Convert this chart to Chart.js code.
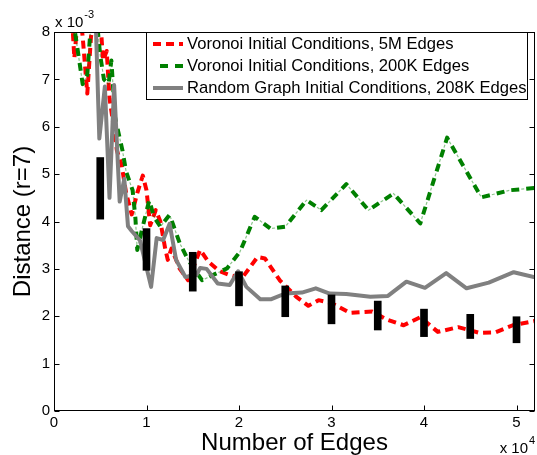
<!DOCTYPE html>
<html><head><meta charset="utf-8">
<script src="https://cdn.jsdelivr.net/npm/chart.js@4.4.1/dist/chart.umd.min.js"></script>
<style>html,body{margin:0;padding:0;background:#fff;}#wrap{width:537px;height:455px;}</style>
</head><body>
<div id="wrap"><canvas id="c" width="537" height="455"></canvas></div>
<script>
const FONT = '"Liberation Sans", Arial, Helvetica, sans-serif';

// Legend / series names
const seriesNames = [
  'Voronoi Initial Conditions, 5M Edges',
  'Voronoi Initial Conditions, 200K Edges',
  'Random Graph Initial Conditions, 208K Edges'
];
const xTitle = 'Number of Edges';
const yTitle = 'Distance (r=7)';
const xTicks = [0, 10000, 20000, 30000, 40000, 50000];
const yTicks = [0, 1, 2, 3, 4, 5, 6, 7, 8];   // in units of 1e-3

// Voronoi, 5M edges (red dashed)  — x: edges, y: distance ×1e-3
const redX = [1800,2200,2700,3100,3600,4000,4500,5000,5300,5700,6000,6300,6800,7300,7800,8400,9000,9600,10000,10400,11000,11500,12000,12300,12700,13600,14500,15800,16700,17900,19000,20300,22000,22800,24400,26200,27500,28600,30000,32000,34400,36000,37800,39600,41500,43700,46000,47700,49600,52000];
const redY = [8.8,7.45,8.6,7.9,6.7,7.9,8.5,8.3,7.4,7.6,6.6,6.2,5.5,5.2,4.6,4.15,4.6,4.97,4.66,3.92,4.24,4.0,3.45,3.19,3.43,3.0,2.76,3.40,3.15,2.95,2.87,2.8,3.25,3.22,2.76,2.41,2.22,2.34,2.28,2.07,2.1,1.93,1.81,1.98,1.67,1.77,1.65,1.66,1.81,1.9];

// Voronoi, 200K edges (green dash-dot)
const greenX = [1800,2500,3100,3600,4000,4500,5000,5400,5900,6200,6600,7400,7800,8500,8800,9000,9600,10300,10800,11500,12500,13600,14500,16000,17500,18700,20100,21700,23400,25000,27300,28900,31600,34000,36700,39600,42500,46200,49300,52100];
const greenY = [8.6,7.7,6.9,7.1,8.2,8.5,7.5,7.0,6.9,7.4,6.2,5.5,5.05,4.66,4.07,3.40,3.9,4.45,4.1,3.89,4.14,3.54,3.19,2.76,2.9,3.01,3.36,4.10,3.85,3.89,4.45,4.24,4.79,4.24,4.59,3.96,5.77,4.51,4.66,4.71];

// Random graph, 208K edges (gray solid)
const grayX = [4500,4900,5500,6000,6500,7100,7600,8000,8400,9300,10500,11100,11800,12500,13200,14200,15400,15800,16500,17700,19000,19900,20800,22300,23500,25000,26800,28300,29800,31600,34200,36100,38100,40100,42400,44600,47000,49700,52000];
const grayY = [8.3,5.75,6.85,4.5,6.88,4.42,4.9,3.9,3.8,3.6,2.62,3.65,3.61,3.95,3.19,2.83,2.87,3.02,3.0,2.69,2.66,2.95,2.62,2.36,2.36,2.48,2.50,2.59,2.48,2.47,2.41,2.43,2.73,2.60,2.91,2.59,2.71,2.93,2.82];

// Error bars (black)
const errX  = [5000,10000,15000,20000,25000,30000,35000,40000,45000,50000];
const errLo = [4.05,2.97,2.53,2.22,1.99,1.84,1.71,1.57,1.53,1.44];
const errHi = [5.35,3.85,3.35,2.94,2.64,2.45,2.32,2.15,2.04,1.99];

const toXY = (xs, ys) => xs.map((x, i) => ({x: x, y: ys[i]}));

const RED = '#ff0000', GREEN = '#008000', GREEN_THIN = 'rgba(0,128,0,0.45)', GRAY = '#808080';

const decorPlugin = {
  id: 'decor',
  afterDraw(chart) {
    const ctx = chart.ctx, a = chart.chartArea, xs = chart.scales.x, ys = chart.scales.y;
    ctx.save();
    ctx.strokeStyle = '#000';
    ctx.lineWidth = 1;
    ctx.setLineDash([]);
    // axes box
    ctx.strokeRect(Math.round(a.left) + 0.5, Math.round(a.top) + 0.5, Math.round(a.right - a.left) - 1, Math.round(a.bottom - a.top) - 1);
    const L = Math.round(a.left) + 0.5, R = Math.round(a.right) - 0.5, T = Math.round(a.top) + 0.5, B = Math.round(a.bottom) - 0.5;
    ctx.beginPath();
    xs.ticks.forEach(t => {
      const px = Math.round(xs.getPixelForValue(t.value)) + 0.5;
      ctx.moveTo(px, B); ctx.lineTo(px, B - 5);
      ctx.moveTo(px, T); ctx.lineTo(px, T + 5);
    });
    ys.ticks.forEach(t => {
      const py = Math.round(ys.getPixelForValue(t.value)) + 0.5;
      ctx.moveTo(L, py); ctx.lineTo(L + 5, py);
      ctx.moveTo(R, py); ctx.lineTo(R - 5, py);
    });
    ctx.stroke();

    // exponent labels
    ctx.fillStyle = '#000';
    ctx.textBaseline = 'alphabetic';
    ctx.textAlign = 'left';
    ctx.font = '15px ' + FONT;
    const s1 = 'x 10';
    ctx.fillText(s1, a.left + 1, a.top - 5);
    const w1 = ctx.measureText(s1).width;
    ctx.font = '11px ' + FONT;
    ctx.fillText('-3', a.left + 1 + w1 + 1, a.top - 14);
    ctx.font = '15px ' + FONT;
    const w2 = ctx.measureText(s1).width;
    ctx.fillText(s1, a.right - 7 - w2, 453);
    ctx.font = '11px ' + FONT;
    ctx.fillText('4', a.right - 6, 444);

    // legend
    const lw = 381, lh = 67;
    const lx = Math.round(a.right) - 8 - lw, ly = Math.round(a.top);
    ctx.fillStyle = '#fff';
    ctx.fillRect(lx, ly, lw, lh);
    ctx.strokeStyle = '#000';
    ctx.lineWidth = 1;
    ctx.strokeRect(lx + 0.5, ly + 0.5, lw, lh);
    const styles = [
      [{c: RED, w: 4, d: [8, 5], o: 0}],
      [{c: GREEN_THIN, w: 1.2, d: [3, 12], o: 5}, {c: GREEN, w: 4, d: [8, 7], o: -7}],
      [{c: GRAY, w: 4, d: [], o: 0}]
    ];
    ctx.font = '16.6px ' + FONT;
    ctx.textBaseline = 'middle';
    seriesNames.forEach((name, i) => {
      const cy = ly + 12 + 22 * i;
      styles[i].forEach(s => {
        ctx.save();
        ctx.strokeStyle = s.c; ctx.lineWidth = s.w; ctx.setLineDash(s.d); ctx.lineDashOffset = s.o;
        ctx.lineCap = 'butt';
        ctx.beginPath(); ctx.moveTo(lx + 7, cy); ctx.lineTo(lx + 37, cy); ctx.stroke();
        ctx.restore();
      });
      ctx.fillStyle = '#000';
      ctx.fillText(name, lx + 41, cy);
    });
    ctx.restore();
  }
};

new Chart(document.getElementById('c'), {
  type: 'line',
  data: {
    datasets: [
      {label: seriesNames[0], data: toXY(redX, redY), borderColor: RED, borderWidth: 4, borderDash: [8, 5],
       borderCapStyle: 'butt', borderJoinStyle: 'round', pointRadius: 0, tension: 0, fill: false, clip: 0, order: 5},
      {label: seriesNames[1] + ' (fine)', data: toXY(greenX, greenY), borderColor: GREEN_THIN, borderWidth: 1.2, borderDash: [3, 12], borderDashOffset: 5,
       pointRadius: 0, tension: 0, fill: false, clip: 0, order: 4},
      {label: seriesNames[1], data: toXY(greenX, greenY), borderColor: GREEN, borderWidth: 4, borderDash: [8, 7],
       borderCapStyle: 'butt', borderJoinStyle: 'round', pointRadius: 0, tension: 0, fill: false, clip: 0, order: 3},
      {label: seriesNames[2], data: toXY(grayX, grayY), borderColor: GRAY, borderWidth: 4,
       borderJoinStyle: 'round', pointRadius: 0, tension: 0, fill: false, clip: 0, order: 2},
      {type: 'bar', label: 'error', data: errX.map((x, i) => ({x: x, y: [errLo[i], errHi[i]]})),
       backgroundColor: '#000', borderWidth: 0, barThickness: 7, clip: 0, order: 1}
    ]
  },
  options: {
    responsive: false,
    devicePixelRatio: 1,
    animation: false,
    events: [],
    layout: {padding: {left: 0, right: 2, top: 32, bottom: 0}},
    plugins: {legend: {display: false}, tooltip: {enabled: false}},
    scales: {
      x: {
        type: 'linear', min: 0, max: 52000, offset: false,
        afterBuildTicks: s => { s.ticks = xTicks.map(v => ({value: v})); },
        ticks: {autoSkip: false, maxRotation: 0, padding: 3, color: '#000', font: {family: FONT, size: 15},
                callback: v => String(v / 10000)},
        grid: {display: false, drawTicks: false},
        border: {display: false},
        title: {display: true, text: xTitle, color: '#000', font: {family: FONT, size: 24, lineHeight: 1}, padding: {top: 0, bottom: 0}},
        afterFit: s => { s.height = 44; }
      },
      y: {
        type: 'linear', min: 0, max: 8,
        afterBuildTicks: s => { s.ticks = yTicks.map(v => ({value: v})); },
        ticks: {padding: 4, color: '#000', font: {family: FONT, size: 15}, callback: v => String(v)},
        grid: {display: false, drawTicks: false},
        border: {display: false},
        title: {display: true, text: yTitle, color: '#000', font: {family: FONT, size: 24, lineHeight: 1}, padding: {top: 11, bottom: 0}},
        afterFit: s => { s.width = 54; }
      }
    }
  },
  plugins: [decorPlugin]
});
</script>
</body></html>
